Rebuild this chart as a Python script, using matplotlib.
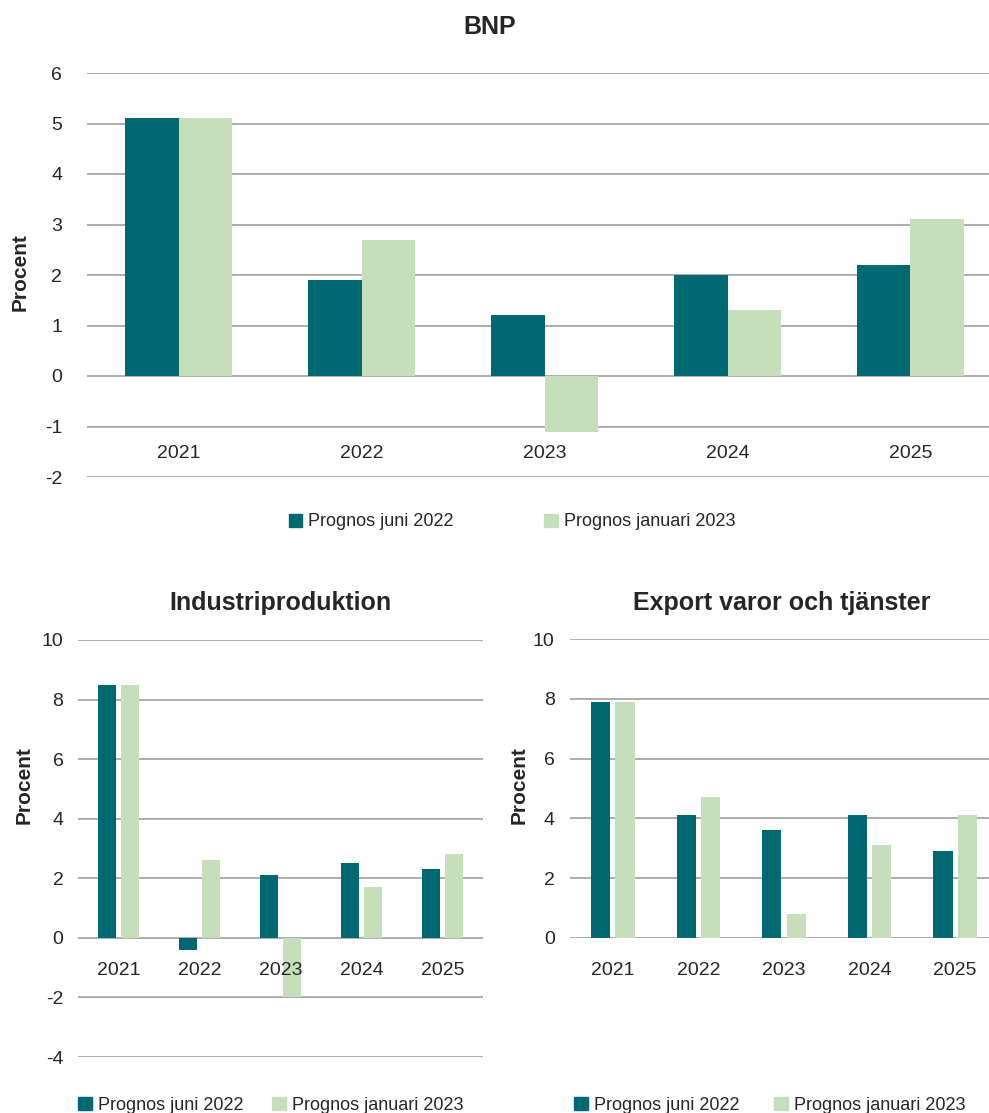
import matplotlib
matplotlib.use("Agg")
import matplotlib.pyplot as plt
import numpy as np

plt.rcParams['font.family'] = ['Liberation Sans', 'DejaVu Sans']
plt.rcParams['axes.unicode_minus'] = False

years = ['2021', '2022', '2023', '2024', '2025']
labels = ['Prognos juni 2022', 'Prognos januari 2023']

bnp_jun22 = [5.1, 1.9, 1.2, 2.0, 2.2]
bnp_jan23 = [5.1, 2.7, -1.1, 1.3, 3.1]

ind_jun22 = [8.5, -0.4, 2.1, 2.5, 2.3]
ind_jan23 = [8.5, 2.6, -2.0, 1.7, 2.8]

exp_jun22 = [7.9, 4.1, 3.6, 4.1, 2.9]
exp_jan23 = [7.9, 4.7, 0.8, 3.1, 4.1]

DARK = '#006870'
LIGHT = '#c5dfbb'
GRID = '#a0a0a0'
TXT = '#262626'

W, H = 989, 1113
fig = plt.figure(figsize=(W / 100, H / 100), dpi=100)


def box(l, r, t, b):
    return [l / W, 1 - b / H, (r - l) / W, (b - t) / H]


def panel(rect, a, b, ylim, yticks, width, off, pad_x, pad_y, gap):
    ax = fig.add_axes(rect)
    x = np.arange(len(years))
    # gridlines under the bars, year labels on top of them
    for y in yticks:
        ax.axhline(y, color=GRID, lw=1.2, zorder=1)
    ax.bar(x - off, a, width - gap, color=DARK, zorder=2)
    ax.bar(x + off, b, width - gap, color=LIGHT, zorder=2)
    ax.set_xlim(-0.5, len(years) - 0.5)
    ax.set_ylim(*ylim)
    ax.set_yticks(yticks)
    ax.set_xticks(x)
    ax.set_xticklabels(years)
    ax.set_axisbelow(False)
    for s in ax.spines.values():
        s.set_visible(False)
    ax.spines['bottom'].set_position(('data', 0))
    ax.tick_params(axis='both', length=0, labelsize=14, colors=TXT)
    ax.tick_params(axis='x', pad=pad_x)
    ax.tick_params(axis='y', pad=pad_y)
    return ax


# BNP
panel(box(87, 1002, 73, 477), bnp_jun22, bnp_jan23, (-2, 6), range(-2, 7),
      0.29, 0.145, 49.5, 18, 0)
fig.text(490 / W, 1 - 27 / H, 'BNP', ha='center', va='center',
         fontsize=18, fontweight='bold', color=TXT)
fig.text(20 / W, 1 - 272 / H, 'Procent', rotation=90, ha='center',
         va='center', fontsize=15, fontweight='bold', color=TXT)

# Industriproduktion
panel(box(78, 483, 640, 1057), ind_jun22, ind_jan23, (-4, 10),
      range(-4, 11, 2), 0.29, 0.142, 17.5, 10.5, 0.07)
fig.text(280 / W, 1 - 603 / H, 'Industriproduktion', ha='center',
         va='center', fontsize=18, fontweight='bold', color=TXT)
fig.text(24 / W, 1 - 785 / H, 'Procent', rotation=90, ha='center',
         va='center', fontsize=15, fontweight='bold', color=TXT)

# Export varor och tjänster
panel(box(570, 998, 639, 938), exp_jun22, exp_jan23, (0, 10),
      range(0, 11, 2), 0.29, 0.143, 17.5, 11, 0.065)
fig.text(782 / W, 1 - 603 / H, 'Export varor och tjänster', ha='center',
         va='center', fontsize=18, fontweight='bold', color=TXT)
fig.text(519 / W, 1 - 785 / H, 'Procent', rotation=90, ha='center',
         va='center', fontsize=15, fontweight='bold', color=TXT)

handles = [plt.Rectangle((0, 0), 1, 1, color=DARK),
           plt.Rectangle((0, 0), 1, 1, color=LIGHT)]


def legend(cx, cy, colsp, size):
    fig.legend(handles, labels, loc='center', ncol=2, frameon=False,
               bbox_to_anchor=(cx / W, 1 - cy / H),
               bbox_transform=fig.transFigure, fontsize=size,
               handlelength=0.75, handleheight=0.75, handletextpad=0.35,
               columnspacing=colsp, labelcolor=TXT)


legend(512, 522, 5.0, 13)
legend(271, 1105, 1.6, 13)
legend(770, 1105, 1.9, 13)

fig.savefig('out.png', dpi=100)
